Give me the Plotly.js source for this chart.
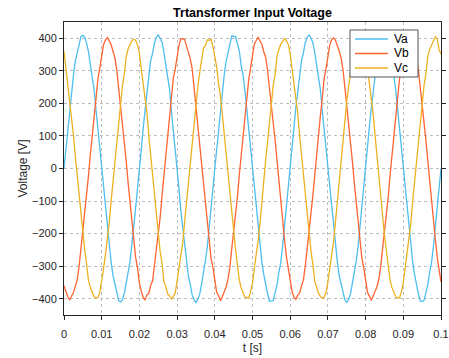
<!DOCTYPE html>
<html>
<head>
<meta charset="utf-8">
<script src="https://cdn.plot.ly/plotly-3.0.1.min.js"></script>
<style>
html,body{margin:0;padding:0;background:#fff;}
#chart{width:449px;height:358px;}
</style>
</head>
<body>
<div id="chart"></div>
<script>
// time step 0.0005 s, 0 .. 0.1 s
const tStart = 0, tStep = 0.0005;
const Va = [
0,60,127,187,229,286,330,356,384,405,409,403,385,358,318,285,241,179,119,64,0,-64,-128,-185,-231,-288,-328,-358,-386,-406,-410,-404,-383,-356,-320,-287,-239,-177,-121,-66,
2,58,124,190,232,283,333,354,386,402,411,399,388,356,321,282,244,176,122,61,-3,-62,-131,-183,-234,-285,-331,-356,-389,-403,-412,-401,-386,-354,-323,-284,-242,-174,-124,-63,
0,61,129,185,228,288,328,359,382,407,406,405,383,361,316,287,239,181,117,66,1,-66,-126,-187,-229,-290,-326,-360,-384,-408,-407,-406,-381,-358,-318,-289,-237,-179,-119,-68,
-1,63,126,188,231,284,331,355,387,403,410,401,387,357,319,283,243,178,120,62,-2,-63,-129,-184,-233,-286,-329,-357,-387,-404,-411,-402,-385,-355,-321,-285,-241,-176,-122,-64,
1,59,128,186,230,287,329,357,383,406,408,404,384,359,317,286,240,180,118,65,0,-65,-127,-186,-230,-289,-327,-359,-385,-407,-409,-405,-382,-357,-319,-288,-238,-178,-120,-67,
0];
const Vb = [
-360,-379,-393,-404,-391,-381,-362,-342,-301,-248,-197,-147,-86,-21,44,110,161,216,275,308,347,381,395,402,393,380,360,340,303,250,195,145,88,23,-43,-106,-160,-217,-273,-306,
-352,-376,-396,-404,-388,-384,-359,-345,-298,-251,-194,-150,-83,-24,47,107,164,213,278,305,350,378,398,399,396,377,363,337,306,247,198,142,91,20,-46,-103,-163,-214,-276,-303,
-347,-381,-390,-406,-393,-379,-364,-340,-303,-246,-199,-145,-88,-19,42,112,159,218,273,310,345,383,393,404,391,382,358,342,301,252,193,147,86,25,-41,-108,-158,-219,-271,-308,
-350,-378,-395,-402,-389,-382,-361,-343,-300,-249,-196,-148,-85,-22,45,109,162,215,276,307,348,380,396,401,394,379,361,339,304,249,196,144,89,22,-44,-105,-161,-216,-274,-305,
-348,-380,-392,-405,-392,-380,-363,-341,-302,-247,-198,-146,-87,-20,43,111,160,217,274,309,346,382,394,403,392,381,359,341,302,251,194,146,87,24,-42,-107,-159,-218,-272,-307,
-349];
const Vc = [
360,309,262,221,168,102,38,-22,-82,-141,-204,-252,-294,-345,-365,-382,-394,-398,-396,-380,-349,-307,-264,-223,-166,-100,-40,25,85,139,206,254,292,344,367,380,392,397,394,379,
354,306,265,218,171,99,41,-25,-79,-144,-201,-255,-291,-348,-362,-385,-391,-401,-393,-383,-346,-310,-261,-226,-163,-103,-37,22,88,136,209,251,295,341,370,377,395,394,397,376,
349,311,260,223,166,104,36,-20,-84,-139,-206,-250,-296,-343,-367,-380,-396,-396,-398,-378,-351,-305,-266,-221,-168,-98,-42,27,83,141,204,256,290,346,365,382,390,399,392,381,
352,308,263,220,169,101,39,-23,-81,-142,-203,-253,-293,-346,-364,-383,-393,-399,-395,-381,-348,-308,-263,-224,-165,-101,-39,24,86,138,207,253,293,343,368,379,393,396,395,378,
350,310,261,222,167,103,37,-21,-83,-140,-205,-251,-295,-344,-366,-381,-395,-397,-397,-379,-350,-306,-265,-222,-167,-99,-41,26,84,140,205,255,291,345,366,381,391,405,398,365,
351];
const seriesNames = ['Va','Vb','Vc'];
const seriesColors = ['#4DBEEE','#FF6431','#EDB120'];
const xTickVals = [0,0.01,0.02,0.03,0.04,0.05,0.06,0.07,0.08,0.09,0.1];
const xTickText = ['0','0.01','0.02','0.03','0.04','0.05','0.06','0.07','0.08','0.09','0.1'];
const yTickVals = [-400,-300,-200,-100,0,100,200,300,400];

const t = Va.map((_, i) => +(tStart + i * tStep).toFixed(4));
const data = [Va, Vb, Vc].map((v, j) => ({
  x: t, y: v, type: 'scatter', mode: 'lines', name: seriesNames[j],
  line: {color: seriesColors[j], width: 1.3}, showlegend: false
}));

// legend drawn as box + sample lines + labels (paper coordinates)
const legBox = {x0: 0.7586, x1: 0.939, y0: 0.8123, y1: 0.9727};
const legRows = [0.9420, 0.8925, 0.8430];
const shapes = [{type: 'rect', xref: 'paper', yref: 'paper', x0: legBox.x0, x1: legBox.x1, y0: legBox.y0, y1: legBox.y1,
  line: {color: '#555', width: 1}, fillcolor: '#fff', layer: 'above'}];
const annotations = [];
seriesNames.forEach((n, j) => {
  shapes.push({type: 'line', xref: 'paper', yref: 'paper', x0: 0.7719, x1: 0.8594, y0: legRows[j], y1: legRows[j],
    line: {color: seriesColors[j], width: 1.3}, layer: 'above'});
  annotations.push({xref: 'paper', yref: 'paper', x: 0.869, y: legRows[j], xanchor: 'left', yanchor: 'middle',
    text: n, showarrow: false, font: {size: 12, color: '#000'}});
});

const font = {family: 'Liberation Sans, Arial, sans-serif', color: '#262626', size: 11};
const layout = {
  width: 449, height: 358,
  margin: {l: 64, r: 8, t: 22, b: 43},
  paper_bgcolor: '#fff', plot_bgcolor: '#fff',
  font: font,
  showlegend: false,
  shapes: shapes, annotations: annotations,
  title: {text: '<b>Trtansformer Input Voltage</b>', font: {family: font.family, size: 12.5, color: '#000'},
    xref: 'paper', x: 0.5, xanchor: 'center', yref: 'container', y: 0.966, yanchor: 'middle'},
  xaxis: {
    range: [0, 0.1], tickvals: xTickVals, ticktext: xTickText,
    showline: true, linecolor: '#262626', linewidth: 1, mirror: true,
    ticks: 'outside', ticklen: 4, tickcolor: '#262626', ticklabelstandoff: 5,
    showgrid: true, gridcolor: '#bdbdbd', griddash: 'dot', gridwidth: 1,
    zeroline: false,
    title: {text: 't [s]', font: {size: 12, color: '#262626'}, standoff: 4}
  },
  yaxis: {
    range: [-450, 450], tickvals: yTickVals,
    showline: true, linecolor: '#262626', linewidth: 1, mirror: 'ticks',
    ticks: 'outside', ticklen: 4, tickcolor: '#262626',
    showgrid: true, gridcolor: '#bdbdbd', griddash: 'dot', gridwidth: 1,
    zeroline: false,
    title: {text: 'Voltage [V]', font: {size: 12, color: '#262626'}, standoff: 1}
  }
};
Plotly.newPlot('chart', data, layout, {displayModeBar: false, staticPlot: true});
</script>
</body>
</html>
